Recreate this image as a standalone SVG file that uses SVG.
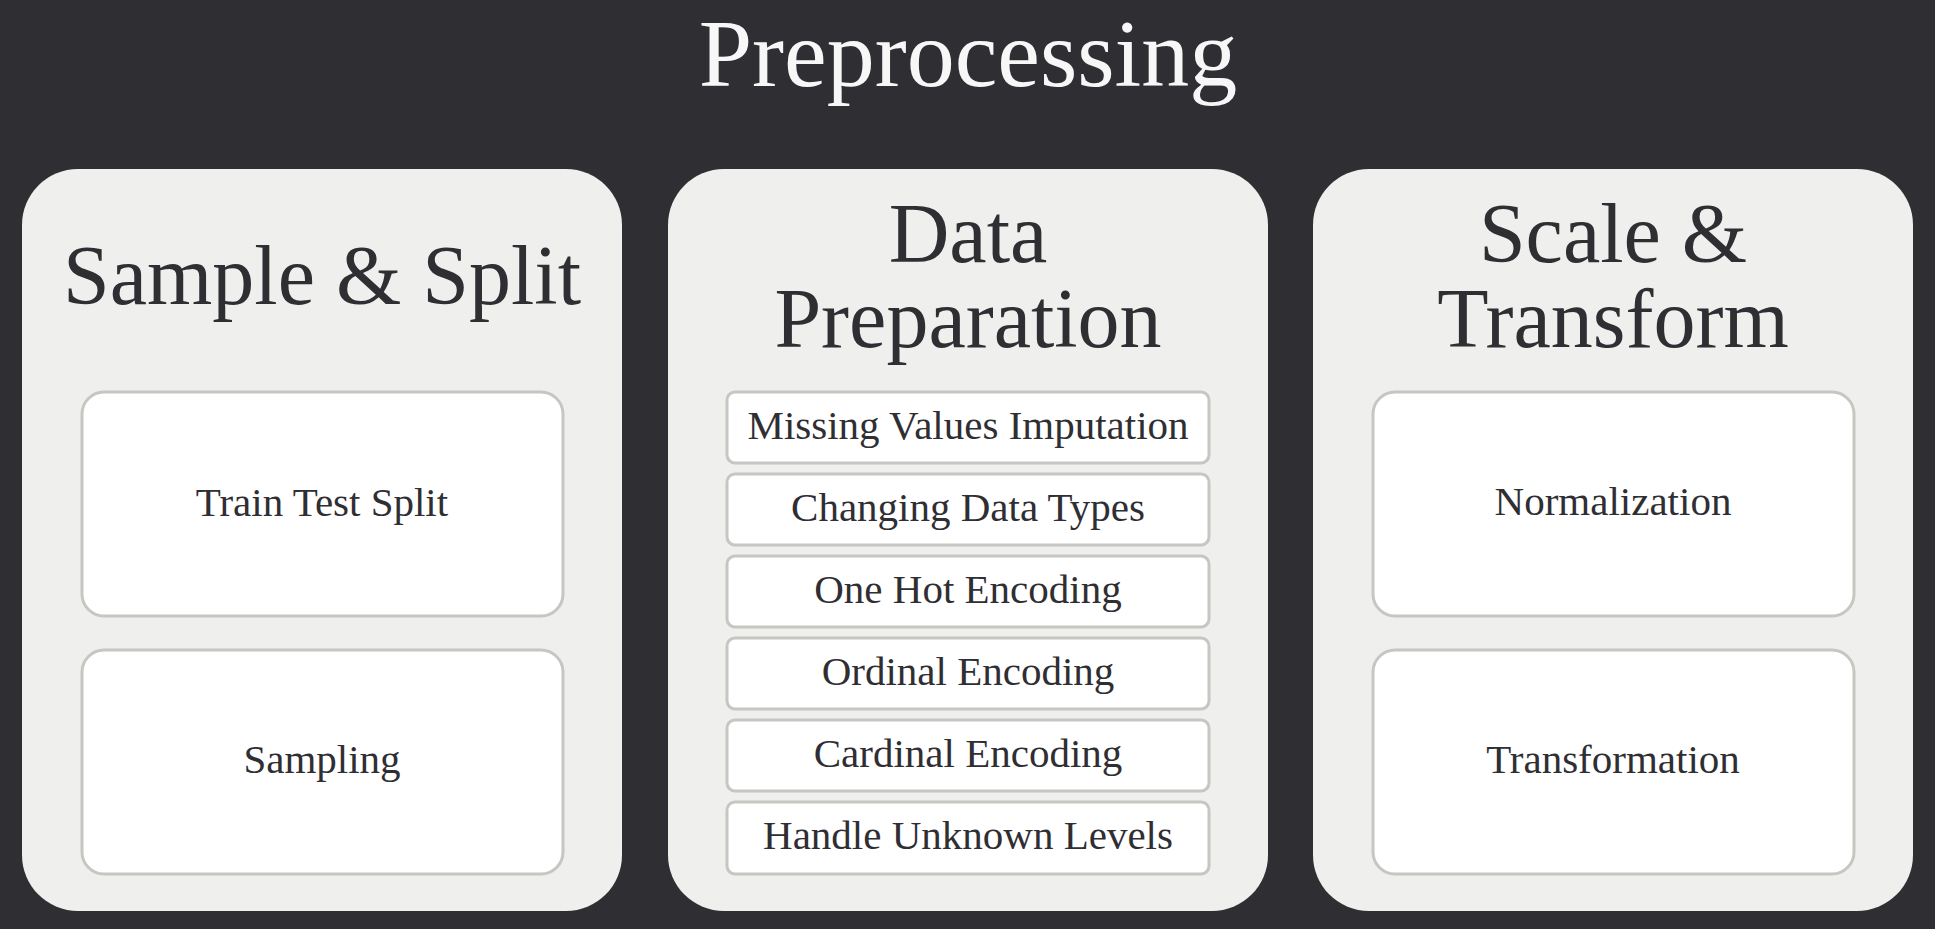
<svg xmlns="http://www.w3.org/2000/svg" width="1935" height="929" viewBox="0 0 1935 929">
<style>
.panel{fill:#efefed;}
.box{fill:#ffffff;stroke:#c6c6c2;stroke-width:3;}
.t{font-family:"Liberation Serif","Times New Roman",serif;fill:#2f2e33;text-anchor:middle;}
.h{font-size:84px;}
.b{font-size:41px;}
.s{font-size:41px;}
.title{font-family:"Liberation Serif","Times New Roman",serif;fill:#f7f7f7;text-anchor:middle;font-size:96px;}
</style>
<rect x="0" y="0" width="1935" height="929" fill="#2f2e33"/>
<text class="title" x="968" y="86">Preprocessing</text>
<g id="connectors"></g>
<g id="panel-sample-split">
<rect class="panel" x="22" y="169" width="600" height="742" rx="56"/>
<text class="t h" x="322" y="304">Sample &amp; Split</text>
</g>
<g id="train-test-split">
<rect class="box" x="82" y="392" width="481" height="224" rx="22"/>
<text class="t b" x="322" y="516">Train Test Split</text>
</g>
<g id="sampling">
<rect class="box" x="82" y="650" width="481" height="224" rx="22"/>
<text class="t b" x="322" y="773">Sampling</text>
</g>
<g id="panel-data-preparation">
<rect class="panel" x="668" y="169" width="600" height="742" rx="56"/>
<text class="t h" x="968" y="262">Data</text>
<text class="t h" x="968" y="347">Preparation</text>
</g>
<g id="missing-values">
<rect class="box" x="727" y="392" width="482" height="71" rx="8"/>
<text class="t s" x="968" y="439">Missing Values Imputation</text>
</g>
<g id="changing-types">
<rect class="box" x="727" y="474" width="482" height="71" rx="8"/>
<text class="t s" x="968" y="521">Changing Data Types</text>
</g>
<g id="one-hot">
<rect class="box" x="727" y="556" width="482" height="71" rx="8"/>
<text class="t s" x="968" y="603">One Hot Encoding</text>
</g>
<g id="ordinal">
<rect class="box" x="727" y="638" width="482" height="71" rx="8"/>
<text class="t s" x="968" y="685">Ordinal Encoding</text>
</g>
<g id="cardinal">
<rect class="box" x="727" y="720" width="482" height="71" rx="8"/>
<text class="t s" x="968" y="767">Cardinal Encoding</text>
</g>
<g id="unknown-levels">
<rect class="box" x="727" y="802" width="482" height="72" rx="8"/>
<text class="t s" x="968" y="849">Handle Unknown Levels</text>
</g>
<g id="panel-scale-transform">
<rect class="panel" x="1313" y="169" width="600" height="742" rx="56"/>
<text class="t h" x="1613" y="262">Scale &amp;</text>
<text class="t h" x="1613" y="347">Transform</text>
</g>
<g id="normalization">
<rect class="box" x="1373" y="392" width="481" height="224" rx="22"/>
<text class="t b" x="1613" y="515">Normalization</text>
</g>
<g id="transformation">
<rect class="box" x="1373" y="650" width="481" height="224" rx="22"/>
<text class="t b" x="1613" y="773">Transformation</text>
</g>
</svg>
